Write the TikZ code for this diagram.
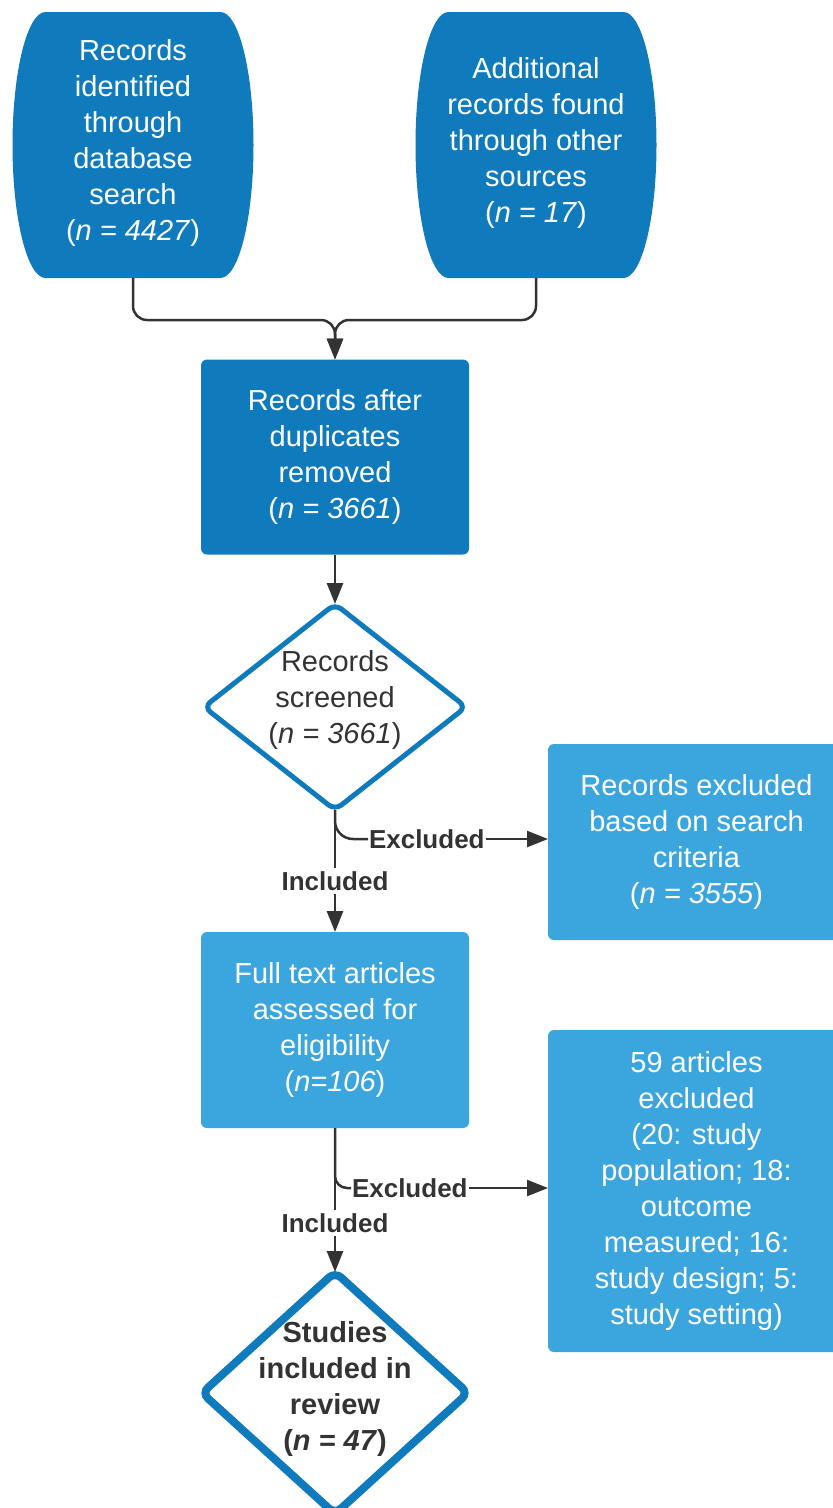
\documentclass[tikz,border=0pt]{standalone}
\usepackage{fontspec}
\setmainfont{Liberation Sans}
\usetikzlibrary{arrows.meta,shapes.geometric,calc}
\definecolor{darkb}{HTML}{0F7BBD}
\definecolor{lightb}{HTML}{3BA6DE}
\definecolor{ink}{HTML}{333333}
\begin{document}
\begin{tikzpicture}[x=1pt,y=1pt,
  txt/.style={font=\fontsize{29}{36}\selectfont, align=center, inner sep=0, outer sep=0},
  box/.style={txt, rounded corners=6, text=white},
  lbl/.style={font=\bfseries\fontsize{26}{30}\selectfont, text=ink, inner xsep=1, inner ysep=3, outer sep=0},
  conn/.style={draw=ink, line width=2.5},
  tip/.style={-{Triangle[length=21pt,width=16pt]}},
  dshape/.style={diamond, draw=darkb, fill=white, inner sep=0, outer sep=0, rounded corners=8}]
\useasboundingbox (0,0) rectangle (833,-1508);
\fill[white] (0,0) rectangle (833,-1508);
\clip (0,0) rectangle (833,-1508);

% top source shapes
\node[txt, minimum width=241, minimum height=266] (s1) at (133,-145) {};
\node[txt, minimum width=241, minimum height=266] (s2) at (536,-145) {};
\fill[darkb] ($(s1.north west)+(33,0)$) -- ($(s1.north east)+(-33,0)$)
  arc[start angle=90,end angle=-90,x radius=33,y radius=133]
  -- ($(s1.south west)+(33,0)$)
  arc[start angle=270,end angle=90,x radius=33,y radius=133] -- cycle;
\fill[darkb] ($(s2.north west)+(33,0)$) -- ($(s2.north east)+(-33,0)$)
  arc[start angle=90,end angle=-90,x radius=33,y radius=133]
  -- ($(s2.south west)+(33,0)$)
  arc[start angle=270,end angle=90,x radius=33,y radius=133] -- cycle;
\node[txt, text=white] (s1t) at (133,-143) {Records\\identified\\through\\database\\search\\(\textit{n = 4427})};
\node[txt, text=white] (s2t) at (536,-143) {Additional\\records found\\through other\\sources\\(\textit{n = 17})};

% boxes
\node[box, fill=darkb, minimum width=268, minimum height=195] (b1) at (335,-457) {Records after\\duplicates\\removed\\(\textit{n = 3661})};
\node[box, fill=lightb, minimum width=268, minimum height=196] (b3) at (335,-1030) {Full text articles\\assessed for\\eligibility\\(\textit{n=106})};
\node[box, fill=lightb, minimum width=297, minimum height=196] (rA) at (696.5,-842) {Records excluded\\based on search\\criteria\\(\textit{n = 3555})};
\node[box, fill=lightb, minimum width=297, minimum height=322] (rB) at (696.5,-1191) {59 articles\\excluded\\(20: study\\population; 18:\\outcome\\measured; 16:\\study design; 5:\\study setting)};

% diamonds
\node[dshape, line width=5, minimum width=262, minimum height=206] (d1) at (335,-707) {};
\node[txt, text=ink] (d1t) at (335,-700) {Records\\screened\\(\textit{n = 3661})};
\node[dshape, line width=8, minimum width=266, minimum height=242] (d2) at (335,-1393) {};
\node[txt, text=ink, font=\bfseries\fontsize{29}{36}\selectfont] (d2t) at (335,-1389) {Studies\\included in\\review\\(\textit{n = 47})};

% merge connector
\coordinate (j) at (335,-320);
\draw[conn, tip, rounded corners=14] (s1.south) |- (j) -- (b1.north);
\draw[conn, tip, rounded corners=14] (s2.south) |- (j) -- (b1.north);
\draw[conn, tip] (b1.south) -- (d1.north);

% first decision
\node[lbl, anchor=west] (ex1) at (368,-839) {Excluded};
\node[lbl, fill=white] (inc1) at (335,-881) {Included};
\draw[conn, rounded corners=18] (d1.south) |- (ex1.west);
\draw[conn, tip] (ex1.east) -- (rA.west |- ex1.east);
\draw[conn] (d1.south) -- (inc1.north);
\draw[conn, tip] (inc1.south) -- (b3.north);

% second decision
\node[lbl, anchor=west] (ex2) at (351,-1188) {Excluded};
\node[lbl, fill=white] (inc2) at (335,-1223) {Included};
\draw[conn, rounded corners=12] (b3.south) |- (ex2.west);
\draw[conn, tip] (ex2.east) -- (rB.west |- ex2.east);
\draw[conn] (b3.south) -- (inc2.north);
\draw[conn, tip] (inc2.south) -- (d2.north);
\end{tikzpicture}
\end{document}
